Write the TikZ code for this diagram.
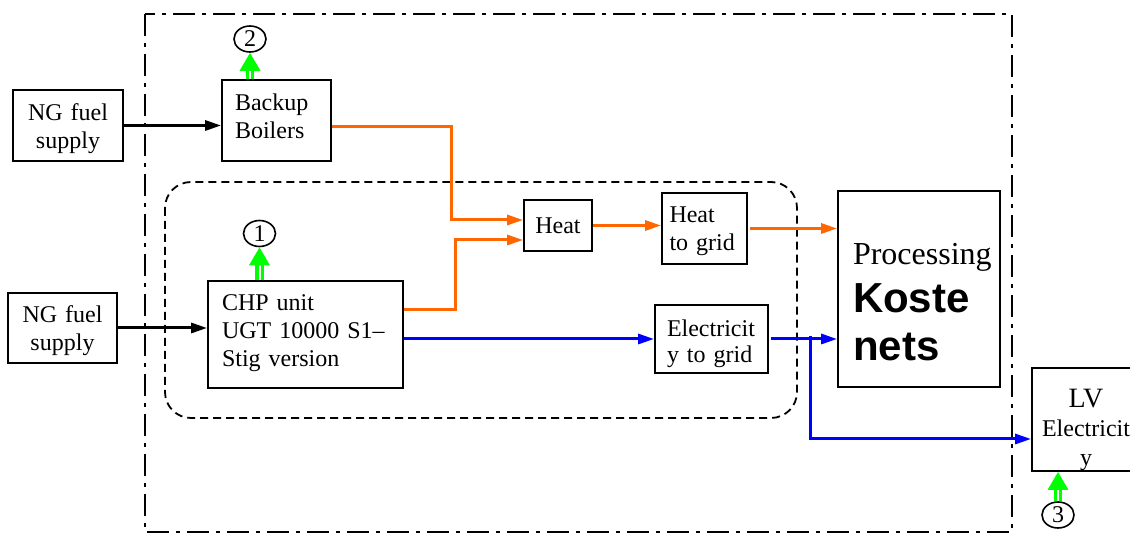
\documentclass[tikz,border=0pt]{standalone}
\usepackage{fontspec}
\setmainfont{Liberation Serif}
\newfontfamily\kostefont{Liberation Sans}
\usetikzlibrary{shapes.geometric,arrows.meta}

\definecolor{heatorange}{RGB}{255,102,0}

\begin{document}
\begin{tikzpicture}[
  x=0.5pt, y=-0.5pt,
  box/.style={rectangle, draw, line width=0.9pt, inner sep=0pt, align=center, font=\fontsize{12}{14}\selectfont},
  lbox/.style={box, align=left, inner xsep=6.5pt},
  num/.style={ellipse, draw, line width=0.8pt, minimum width=16pt, minimum height=13pt, inner sep=0pt, font=\fontsize{12}{12}\selectfont},
  fuel/.style={-{Triangle[length=8pt, width=5pt]}, line width=1.5pt},
  heatline/.style={fuel, draw=heatorange},
  elecline/.style={fuel, draw=blue},
  greenup/.style={draw=green, line width=1.7pt, double=white, double distance=1pt, -{Triangle[length=9pt, width=10pt]}},
  frame/.style={line width=0.9pt, dash pattern=on 11pt off 3.5pt on 2pt off 3.5pt},
  chpzone/.style={line width=0.9pt, dash pattern=on 4pt off 2.5pt, rounded corners=13pt},
]
\useasboundingbox (0,0) rectangle (1130,533);
\clip (0,0) rectangle (1130,533);

% === BORDERS ===
\draw[frame] (145,14) rectangle (1012,532);
\draw[chpzone] (165,182) rectangle (797,418);

% === BOXES ===
\node[box, text width=50pt, inner xsep=2.5pt, minimum height=35.5pt, text height=10pt, text depth=14.5pt] (ngtop) at (68,125.5) {NG fuel\\supply};
\node[box, text width=50pt, inner xsep=2.25pt, minimum height=35pt, text height=10pt, text depth=15pt] (ngbot) at (62.5,328) {NG fuel\\supply};
\node[lbox, text width=41.5pt, minimum height=40.5pt, text height=8pt, text depth=17.5pt] (boiler) at (276.5,120.5) {Backup\\Boilers};
\node[lbox, inner xsep=7pt, text width=83.5pt, minimum height=53.5pt, text height=8pt, text depth=31.5pt] (chp) at (305.5,334.5) {CHP unit\\UGT 10000 S1–\\Stig version};
\node[box, minimum width=34pt, minimum height=25.5pt] (heat) at (558,225.5) {Heat};
\node[lbox, inner xsep=0pt, text width=35pt, minimum width=42.5pt, minimum height=35.5pt, text height=9pt, text depth=14.5pt] (heatgrid) at (704.5,228.5) {Heat\\to grid};
\node[lbox, inner xsep=6pt, text width=44.5pt, minimum height=34pt, text height=11pt, text depth=13pt, font=\fontsize{12}{13}\selectfont] (elecgrid) at (711.5,339) {Electricit\\y to grid};
\node[lbox, inner xsep=7.5pt, text width=66pt, minimum height=98pt, text height=23pt, text depth=47pt, font=\fontsize{16}{24}\selectfont] (proc) at (919,289)
  {Processing\\\kostefont\bfseries\fontsize{21}{24}\selectfont Koste\\nets};
\node[box, text width=50pt, inner xsep=2pt, minimum height=50.5pt, text height=20pt, text depth=31.5pt, font=\fontsize{12}{14.5}\selectfont] (lv) at (1086,419.5)
  {{\fontsize{14}{14.5}\selectfont LV}\\Electricit\\y};

\node[num] (c2) at (250,39) {2};
\node[num] (c1) at (259.5,233.5) {1};
\node[num] (c3) at (1058,515) {3};

% === FUEL INPUTS ===
\draw[fuel] (ngtop.east) -- (ngtop.east -| boiler.west);
\draw[fuel] (ngbot.east) -- (ngbot.east -| chp.west);

% === HEAT PATH ===
\coordinate (hb) at (451,220);
\coordinate (hc) at (455,240);
\draw[heatline] ([yshift=-3.25pt]boiler.east) -| (hb) -- (hb -| heat.west);
\draw[heatline] ([yshift=12.5pt]chp.east) -| (hc) -- (hc -| heat.west);
\draw[heatline] (heat.east) -- (heat.east -| heatgrid.west);
\draw[heatline] ([xshift=1pt]heatgrid.east) -- (heatgrid.east -| proc.west);

% === ELECTRICITY PATH ===
\coordinate (br) at (810,336);
\draw[elecline] (elecgrid.west -| chp.east) -- (elecgrid.west);
\draw[elecline] ([xshift=1pt]elecgrid.east) -- (elecgrid.east -| proc.west);
\draw[elecline] (br) |- ([yshift=-9.75pt]lv.west);

% === MEASUREMENT POINTS ===
\draw[greenup] (boiler.north -| c2.south) -- (c2.south);
\draw[greenup] (chp.north -| c1.south) -- (c1.south);
\draw[greenup] (c3.north) -- (c3.north |- lv.south);
\end{tikzpicture}
\end{document}
